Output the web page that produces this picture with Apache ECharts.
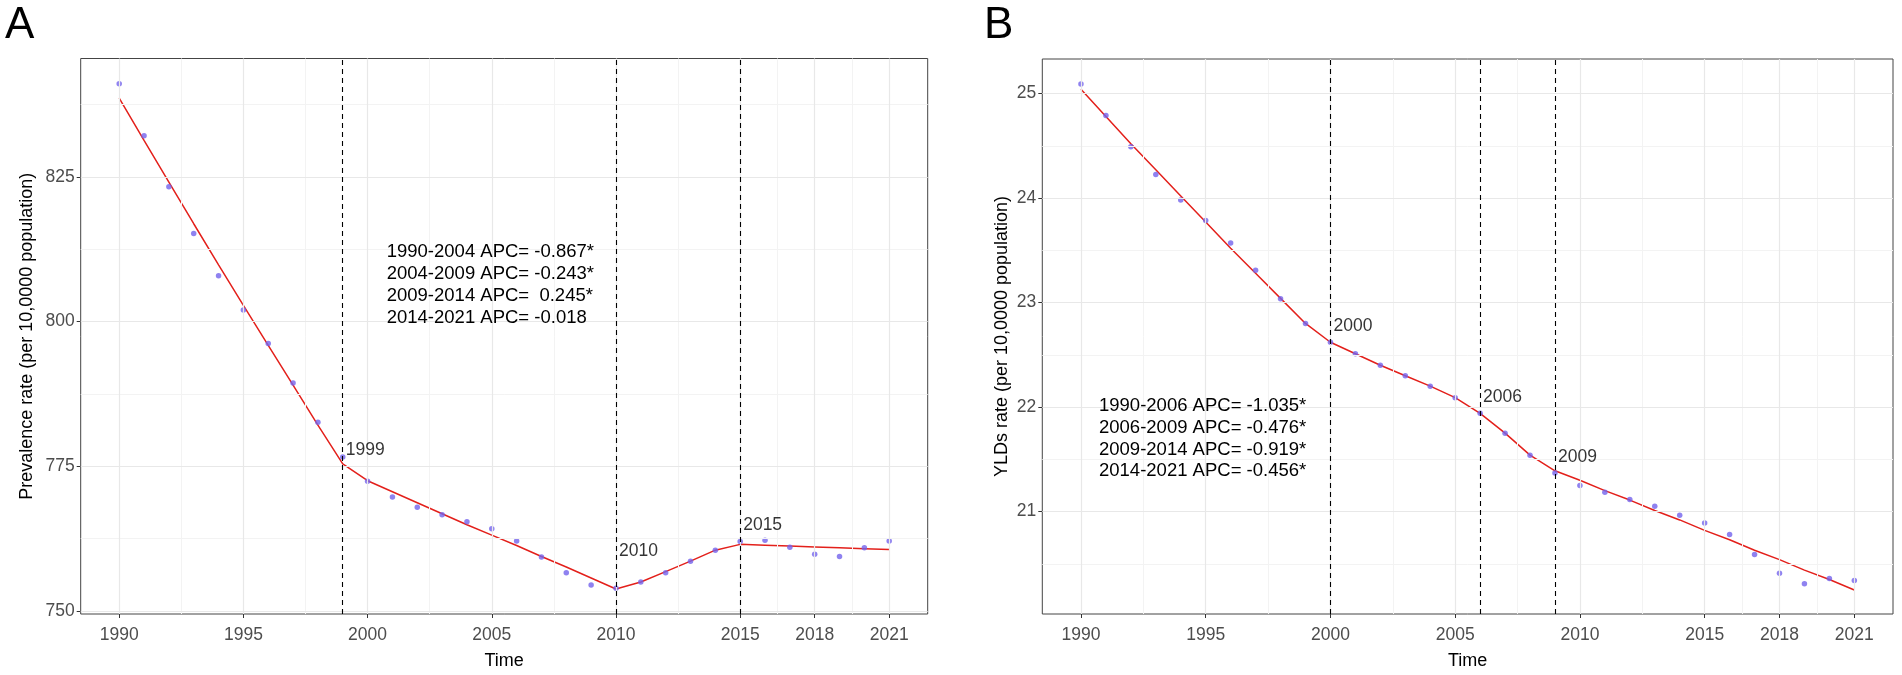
<!DOCTYPE html>
<html><head><meta charset="utf-8">
<script src="https://cdn.jsdelivr.net/npm/echarts@6/dist/echarts.min.js"></script>
<style>html,body{margin:0;padding:0;background:#fff}#c{width:1902px;height:675px}</style>
</head><body><div id="c"></div>
<script>
const years = [1990,1991,1992,1993,1994,1995,1996,1997,1998,1999,2000,2001,2002,2003,2004,2005,2006,2007,2008,2009,2010,2011,2012,2013,2014,2015,2016,2017,2018,2019,2020,2021];
const prevalence = [841.1,832.1,823.3,815.2,807.9,802.0,796.2,789.4,782.6,776.6,772.4,769.7,767.9,766.6,765.4,764.2,762.1,759.3,756.6,754.5,753.9,755.0,756.6,758.6,760.5,762.0,762.2,761.0,759.8,759.4,760.9,762.1];
const prevalenceFit = [838.6,831.3,824.1,816.9,809.8,802.8,795.9,789.0,782.1,775.4,772.5,770.6,768.7,766.8,764.9,763.1,761.3,759.4,757.6,755.7,753.8,755.0,756.8,758.6,760.5,761.5,761.35,761.2,761.05,760.9,760.75,760.6];
const ylds = [25.09,24.79,24.49,24.225,23.98,23.785,23.57,23.31,23.035,22.80,22.62,22.51,22.40,22.30,22.20,22.09,21.94,21.75,21.54,21.37,21.25,21.185,21.115,21.05,20.965,20.89,20.78,20.59,20.41,20.31,20.36,20.34];
const yldsFit = [25.04,24.78,24.52,24.27,24.02,23.77,23.52,23.28,23.04,22.80,22.62,22.51,22.40,22.30,22.20,22.09,21.94,21.75,21.54,21.39,21.30,21.20,21.11,21.01,20.92,20.82,20.73,20.63,20.54,20.44,20.35,20.25];
const xTicks = [1990,1995,2000,2005,2010,2015,2018,2021];
const xMinor = [1992.5,1997.5,2002.5,2007.5,2012.5,2016.5,2019.5];
const prevTicks = [750,775,800,825];
const prevMinor = [762.5,787.5,812.5,837.5];
const yldTicks = [21,22,23,24,25];
const yldMinor = [20.5,21.5,22.5,23.5,24.5];
const prevJoin = [1999,2010,2015];
const yldJoin = [2000,2006,2009];
const prevApc = ["1990-2004 APC= -0.867*","2004-2009 APC= -0.243*","2009-2014 APC=  0.245*","2014-2021 APC= -0.018"];
const yldApc = ["1990-2006 APC= -1.035*","2006-2009 APC= -0.476*","2009-2014 APC= -0.919*","2014-2021 APC= -0.456*"];
const xTitle = "Time";
const prevTitle = "Prevalence rate (per 10,0000 population)";
const yldTitle = "YLDs rate (per 10,0000 population)";

const FONT = '"Liberation Sans", Arial, Helvetica, sans-serif';
const chart = echarts.init(document.getElementById('c'), null, {renderer:'canvas'});

function xAxisDef(gi){
  return {type:'value', gridIndex:gi, min:1988.45, max:2022.55,
    name:xTitle, nameLocation:'middle', nameGap:38,
    nameTextStyle:{fontFamily:FONT, fontSize:18, color:'#000'},
    axisLine:{show:false}, splitLine:{show:false},
    axisTick:{show:true, length:4, customValues:xTicks, lineStyle:{color:'#333', width:1}},
    axisLabel:{customValues:xTicks, formatter:v=>String(v), fontFamily:FONT, fontSize:17.5, color:'#4d4d4d', margin:12}};
}
function yAxisDef(gi, min, max, ticks, title, gap){
  return {type:'value', gridIndex:gi, min:min, max:max,
    name:title, nameLocation:'middle', nameGap:gap,
    nameTextStyle:{fontFamily:FONT, fontSize:18, color:'#000'},
    axisLine:{show:false}, splitLine:{show:false},
    axisTick:{show:true, length:4, customValues:ticks, lineStyle:{color:'#333', width:1}},
    axisLabel:{customValues:ticks, formatter:v=>String(v), fontFamily:FONT, fontSize:17.5, color:'#4d4d4d', margin:6}};
}
function gridSeries(idx, yMajor, yMinor){
  const minorStyle = {color:'#f3f3f3', width:1, type:'solid'};
  const majorStyle = {color:'#e8e8e8', width:1.2, type:'solid'};
  const d = [];
  xMinor.forEach(v=>d.push({xAxis:v, lineStyle:minorStyle}));
  yMinor.forEach(v=>d.push({yAxis:v, lineStyle:minorStyle}));
  xTicks.forEach(v=>d.push({xAxis:v, lineStyle:majorStyle}));
  yMajor.forEach(v=>d.push({yAxis:v, lineStyle:majorStyle}));
  return {type:'line', xAxisIndex:idx, yAxisIndex:idx, data:[], silent:true, z:1,
    markLine:{silent:true, symbol:['none','none'], label:{show:false}, animation:false, data:d}};
}
function panelSeries(idx, pts, fit, joins, offsets){
  const ptData = years.map((y,i)=>[y, pts[i]]);
  const fitData = years.map((y,i)=>[y, fit[i]]);
  const labData = joins.map((y,k)=>({value:[y, fit[years.indexOf(y)]], label:{offset:offsets[k]}}));
  return [
    gridSeries(idx, idx===0?prevTicks:yldTicks, idx===0?prevMinor:yldMinor),
    {type:'line', xAxisIndex:idx, yAxisIndex:idx, data:fitData, symbol:'none', z:3,
      lineStyle:{color:'#e3201b', width:1.5},
      markLine:{silent:true, symbol:['none','none'], label:{show:false}, animation:false,
        lineStyle:{color:'#000', width:1.1, type:[5,4]}, data:joins.map(v=>({xAxis:v}))}},
    {type:'scatter', xAxisIndex:idx, yAxisIndex:idx, data:ptData, symbolSize:5.5, z:4,
      itemStyle:{color:'#7363ec'}},
    {type:'scatter', xAxisIndex:idx, yAxisIndex:idx, data:labData, symbolSize:0, z:5, silent:true,
      label:{show:true, position:'right', distance:3, formatter:p=>String(p.value[0]),
        fontFamily:FONT, fontSize:17.5, color:'#000'}}
  ];
}

chart.setOption({
  animation:false,
  backgroundColor:'#fff',
  grid:[
    {left:80.7, top:58.5, width:847, height:555.5, show:true, borderColor:'#444', borderWidth:1, backgroundColor:'#fff', outerBoundsMode:'none', containLabel:false},
    {left:1042.3, top:59, width:850.7, height:555, show:true, borderColor:'#444', borderWidth:1, backgroundColor:'#fff', outerBoundsMode:'none', containLabel:false}
  ],
  xAxis:[xAxisDef(0), xAxisDef(1)],
  yAxis:[yAxisDef(0, 749.47, 845.45, prevTicks, prevTitle, 45), yAxisDef(1, 20.02, 25.33, yldTicks, yldTitle, 31)],
  series:[].concat(
    panelSeries(0, prevalence, prevalenceFit, prevJoin, [[0,-14],[0,-38],[0,-19]]),
    panelSeries(1, ylds, yldsFit, yldJoin, [[0,-16],[0,-16],[0,-14]])
  ),
  graphic:[
    {type:'text', z:100, left:5, top:4, style:{text:'A', fontFamily:FONT, fontSize:44, fill:'#000'}},
    {type:'text', z:100, left:984, top:4, style:{text:'B', fontFamily:FONT, fontSize:44, fill:'#000'}},
    {type:'text', z:100, left:386.7, top:241, style:{text:prevApc.join('\n'), fontFamily:FONT, fontSize:18.5, lineHeight:22, fill:'#000'}},
    {type:'text', z:100, left:1099, top:395, style:{text:yldApc.join('\n'), fontFamily:FONT, fontSize:18.5, lineHeight:21.8, fill:'#000'}}
  ]
});
</script></body></html>
